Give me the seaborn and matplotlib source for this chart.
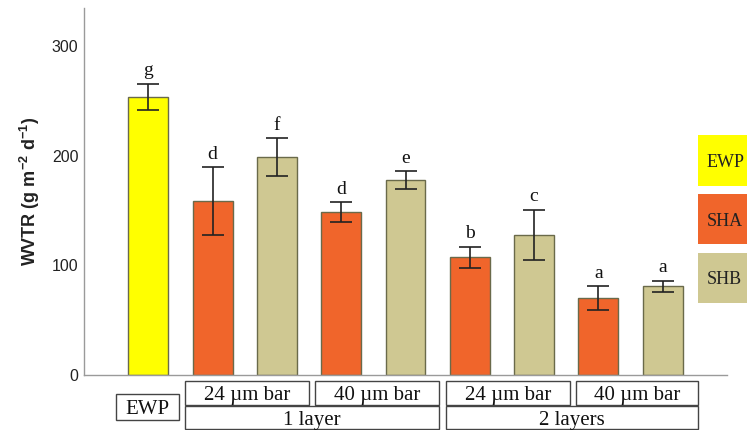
import matplotlib
matplotlib.use("Agg")
import matplotlib.pyplot as plt
import matplotlib.transforms as mtransforms
from matplotlib.patches import Rectangle
import seaborn as sns
import pandas as pd

# ---- data ----
bars = ["EWP", "SHA 24um 1L", "SHB 24um 1L", "SHA 40um 1L", "SHB 40um 1L",
        "SHA 24um 2L", "SHB 24um 2L", "SHA 40um 2L", "SHB 40um 2L"]
material = ["EWP", "SHA", "SHB", "SHA", "SHB", "SHA", "SHB", "SHA", "SHB"]
wvtr = [254, 159, 199, 149, 178, 107.5, 128, 70, 81]
err = [12, 31, 17, 9, 8, 9.5, 23, 11, 5]
letters = ["g", "d", "f", "d", "e", "b", "c", "a", "a"]
yticks = [0, 100, 200, 300]
# bottom label boxes: (text, x0, x1, row)
box_labels = ["EWP", "24 \u00b5m bar", "40 \u00b5m bar", "1 layer",
              "24 \u00b5m bar", "40 \u00b5m bar", "2 layers"]
box_x0 = [-0.50, 0.575, 2.597, 0.575, 4.634, 6.656, 4.634]
box_x1 = [0.482, 2.497, 4.526, 4.526, 6.555, 8.549, 8.549]
box_row = ["ewp", "top", "top", "bottom", "top", "top", "bottom"]
legend_labels = ["EWP", "SHA", "SHB"]

colors = {"EWP": "#FFFF00", "SHA": "#F0652B", "SHB": "#CFC892"}

plt.rcParams["mathtext.fontset"] = "custom"
plt.rcParams["mathtext.rm"] = "Liberation Sans"
plt.rcParams["mathtext.bf"] = "Liberation Sans:bold"

df = pd.DataFrame({"bar": bars, "material": material, "wvtr": wvtr})

W, H = 747, 430
fig = plt.figure(figsize=(W / 100, H / 100), dpi=100)
ax = fig.add_axes([84 / W, 1 - 375 / H, (727 - 84) / W, (375 - 8) / H])

sns.barplot(data=df, x="bar", y="wvtr", hue="material", palette=colors,
            dodge=False, width=0.62, edgecolor="#6a6a4a", linewidth=1.0,
            saturation=1, legend=False, ax=ax, order=bars)

xs = list(range(len(bars)))
ax.errorbar(xs, wvtr, yerr=err, fmt="none", ecolor="#222222",
            elinewidth=1.2, capsize=8, capthick=1.2)

serif = ["Liberation Serif", "DejaVu Serif"]
for x, v, e, t in zip(xs, wvtr, err, letters):
    ax.annotate(t, (x, v + e), xytext=(0, 6), textcoords="offset points",
                ha="center", va="baseline", fontsize=14, family=serif,
                color="#111111")

ax.set_xlim(-1, 9)
ax.set_ylim(0, 335)
ax.set_yticks(yticks)
ax.set_yticklabels([str(t) for t in yticks], fontsize=11.5,
                   family=["Liberation Sans", "DejaVu Sans"], color="#222222")
ax.set_xticks([])
ax.set_xlabel("")
ax.set_ylabel(r"WVTR (g m$^{\mathbf{-2}}$ d$^{\mathbf{-1}}$)", fontsize=13,
              fontweight="bold", family=["Liberation Sans", "DejaVu Sans"],
              color="#222222", labelpad=7)
ax.tick_params(axis="y", length=0, pad=4)
for s in ["top", "right"]:
    ax.spines[s].set_visible(False)
for s in ["left", "bottom"]:
    ax.spines[s].set_color("#9a9a9a")
    ax.spines[s].set_linewidth(1.0)

# bottom boxes (x in data coordinates, y in figure pixels)
trans = mtransforms.blended_transform_factory(ax.transData, fig.transFigure)
rows = {"ewp": (394, 420), "top": (381, 405), "bottom": (406, 429)}
for lab, x0, x1, r in zip(box_labels, box_x0, box_x1, box_row):
    ytop, ybot = rows[r]
    y0 = 1 - ybot / H
    h = (ybot - ytop) / H
    rect = Rectangle((x0, y0), x1 - x0, h, transform=trans, fill=False,
                     edgecolor="#444444", linewidth=1.0, clip_on=False)
    fig.add_artist(rect)
    fig.text((x0 + x1) / 2, y0 + h / 2, lab, transform=trans, ha="center",
             va="center_baseline", fontsize=15, family=serif, color="#111111")

# legend color boxes at right
leg_y = [(135, 186), (194, 244), (253, 303)]
for lab, (yt, yb) in zip(legend_labels, leg_y):
    rect = Rectangle((698 / W, 1 - yb / H), 60 / W, (yb - yt) / H,
                     transform=fig.transFigure, facecolor=colors[lab],
                     edgecolor="none")
    fig.add_artist(rect)
    fig.text(707 / W, 1 - (yt + yb) / 2 / H, lab, ha="left",
             va="center_baseline", fontsize=13, family=serif, color="#222222")

fig.savefig("out.png", dpi=100)
